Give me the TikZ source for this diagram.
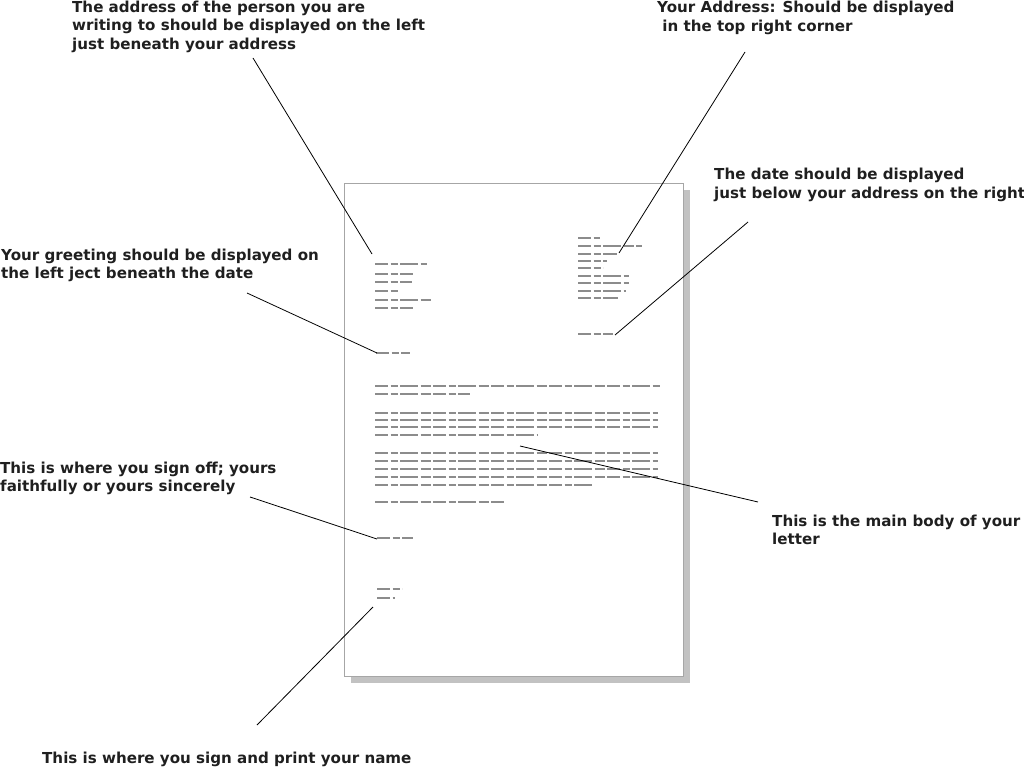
\documentclass[tikz,border=0pt]{standalone}
\usepackage{fontspec}
\setmainfont{DejaVu Sans}
\begin{document}
\begin{tikzpicture}[x=1pt,y=-1pt,
  lbl/.style={anchor=base west,align=left,inner sep=0pt,font=\fontsize{15.1}{18.5}\selectfont\bfseries,text=black!88},
  lead/.style={draw=black,line width=0.8pt},
  txt/.style={draw=black!45,line width=2.3pt,dash pattern=on 13pt off 2.5pt on 7pt off 2.5pt on 18pt off 2.5pt on 10pt off 2.5pt},
  pagebox/.style={fill=white,draw=black!35,line width=0.8pt},
  shadowbox/.style={fill=black!24,draw=none}]
\useasboundingbox (0,0) rectangle (1024,767);
% page with shadow
\path[shadowbox] (351,190) rectangle (690,683);
\path[pagebox] (344,183) rectangle (683,676);
% recipient address
\foreach \y/\e in {264/427,274/413,282/412,291/398,300/431,308/413}
  \draw[txt] (375,\y) -- (\e,\y);
% sender address
\foreach \y/\e in {238/600,246/642,254/617,261/607,268/603,276/629,283/629,291/626,298/618}
  \draw[txt] (578,\y) -- (\e,\y);
% date
\draw[txt] (578,334) -- (613,334);
% greeting
\draw[txt] (376,353) -- (410,353);
% body
\foreach \y/\e in {386/660,394/470,413/658,420/658,427/658,435/537,453/658,461/658,469/658,477/658,485/593,502/505}
  \draw[txt] (375,\y) -- (\e,\y);
% sign off
\draw[txt] (377,538) -- (413,538);
% name
\draw[txt] (377,589) -- (402,589);
\draw[txt] (377,598) -- (395,598);

% labels (anchored at the baseline of their last line)
\node[lbl] (lAddr) at (72,49.5) {The address of the person you are\\writing to should be displayed on the left\\just beneath your address};
\node[lbl] (lYour) at (657,31.5) {Your Address: Should be displayed\\\ in the top right corner};
\node[lbl] (lDate) at (714,198.5) {The date should be displayed\\just below your address on the right};
\node[lbl] (lGreet) at (1,278.5) {Your greeting should be displayed on\\the left ject beneath the date};
\node[lbl] (lOff) at (0,491.5) {This is where you sign off; yours\\faithfully or yours sincerely};
\node[lbl] (lBody) at (772,544.5) {This is the main body of your\\letter};
\node[lbl] (lName) at (42,763) {This is where you sign and print your name};

% leader end points
\coordinate (aS) at (253,58);   \coordinate (aE) at (372,254);
\coordinate (yS) at (745,52);   \coordinate (yE) at (619,253);
\coordinate (dS) at (748,222);  \coordinate (dE) at (615,335);
\coordinate (gS) at (247,293);  \coordinate (gE) at (377,353);
\coordinate (bS) at (758,502);  \coordinate (bE) at (520,446);
\coordinate (oS) at (250,497);  \coordinate (oE) at (377,539);
\coordinate (nS) at (257,725);  \coordinate (nE) at (373,607);
\draw[lead] (aS) -- (aE);
\draw[lead] (yS) -- (yE);
\draw[lead] (dS) -- (dE);
\draw[lead] (gS) -- (gE);
\draw[lead] (bS) -- (bE);
\draw[lead] (oS) -- (oE);
\draw[lead] (nS) -- (nE);
\end{tikzpicture}
\end{document}
